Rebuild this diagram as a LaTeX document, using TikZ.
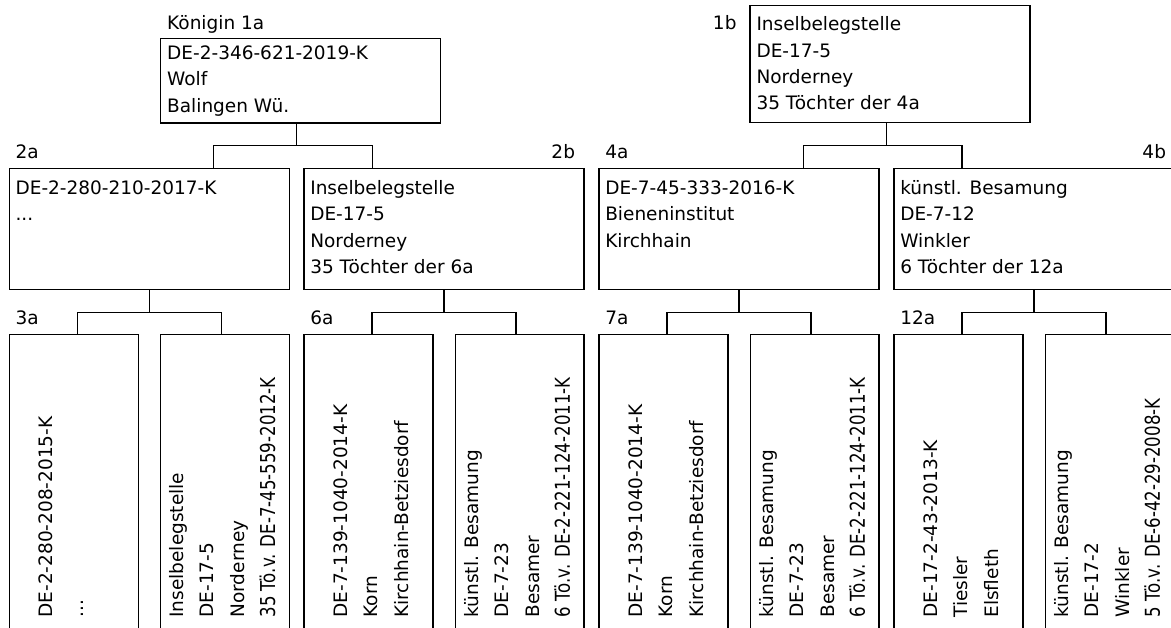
\documentclass[tikz,border=0pt]{standalone}
\usepackage{fontspec}
\usepackage{graphicx}
\setmainfont{DejaVu Sans}
\newcommand\fs{\fontsize{18.5pt}{22pt}\selectfont}
\newcommand\cond[1]{\scalebox{0.81}[1]{\fontsize{20.5pt}{24pt}\selectfont #1}}
\newcommand\tdots{...}
\tikzset{
  box/.style={draw, line width=1.3pt, inner sep=0pt, outer sep=0pt, anchor=north west},
  txt/.style={inner sep=0pt, outer sep=0pt, anchor=base west, font=\fs},
  lblr/.style={inner sep=0pt, outer sep=0pt, anchor=base east, font=\fs},
  conn/.style={line width=1.3pt},
}
\newcommand\hlines[4]{\foreach \s [count=\i] in {#4} {\node[txt] (#1-\i) at ({#2},{#3+(\i-1)*26.4}) {\s};}}
\newcommand\vlines[4]{\foreach \s [count=\i] in {#4} {\node[txt, rotate=90] (#1-\i) at ({#2+(\i-1)*30.6},#3) {\s};}}
\begin{document}
\begin{tikzpicture}[x=1pt,y=-1pt]
\useasboundingbox[fill=white] (0,0) rectangle (1171,628);
\clip (0,0) rectangle (1171,628);
% top boxes
\node[box, minimum width=280pt, minimum height=84.7pt] (b1a) at (160.7,38.3) {};
\node[box, minimum width=280pt, minimum height=116.6pt] (b1b) at (750,5.7) {};
\node[txt] (l1a) at (167.2,30) {Königin 1a};
\node[lblr] (l1b) at (736.5,29.5) {1b};
\hlines{t1a}{167.2}{59.5}{DE-2-346-621-2019-K,Wolf,Balingen Wü.}
\hlines{t1b}{756.5}{30.7}{Inselbelegstelle,DE-17-5,Norderney,35 Töchter der 4a}
% middle boxes
\foreach \n/\x in {2a/9.3,2b/304,4a/599,4b/894}{
  \node[box, minimum width=280pt, minimum height=121pt] (b\n) at (\x,168.3) {};
}
\node[txt] (l2a) at (15.6,158.3) {2a};
\node[lblr] (l2b) at (575,158.3) {2b};
\node[txt] (l4a) at (605.3,158.3) {4a};
\node[lblr] (l4b) at (1166,158.3) {4b};
\hlines{t2a}{15.6}{194.3}{DE-2-280-210-2017-K,\tdots}
\hlines{t2b}{310.3}{194.3}{Inselbelegstelle,DE-17-5,Norderney,35 Töchter der 6a}
\hlines{t4a}{605.3}{194.3}{DE-7-45-333-2016-K,Bieneninstitut,Kirchhain}
\hlines{t4b}{900.3}{194.3}{künstl. Besamung,DE-7-12,Winkler,6 Töchter der 12a}
% bottom boxes
\foreach \n/\x in {3a/9.3,6a/304,7a/599,12a/894}{
  \node[box, minimum width=129pt, minimum height=306pt] (b\n L) at (\x,334.5) {};
  \node[box, minimum width=128.5pt, minimum height=306pt] (b\n R) at (\x+151.5,334.5) {};
  \node[txt] (l\n) at (\x+6.3,325) {\n};
}
\vlines{t3aL}{52.6}{617.5}{DE-2-280-208-2015-K,\tdots}
\vlines{t3aR}{183.3}{617.5}{Inselbelegstelle,DE-17-5,Norderney,\cond{35 Tö.v. DE-7-45-559-2012-K}}
\vlines{t6aL}{347.3}{617.5}{DE-7-139-1040-2014-K,Korn,Kirchhain-Betziesdorf}
\vlines{t6aR}{478}{617.5}{künstl. Besamung,DE-7-23,Besamer,\cond{6 Tö.v. DE-2-221-124-2011-K}}
\vlines{t7aL}{642.3}{617.5}{DE-7-139-1040-2014-K,Korn,Kirchhain-Betziesdorf}
\vlines{t7aR}{773}{617.5}{künstl. Besamung,DE-7-23,Besamer,\cond{6 Tö.v. DE-2-221-124-2011-K}}
\vlines{t12aL}{937.3}{617.5}{DE-17-2-43-2013-K,Tiesler,Elsfleth}
\vlines{t12aR}{1068}{617.5}{künstl. Besamung,DE-17-2,Winkler,\cond{5 Tö.v. DE-6-42-29-2008-K}}
% connectors top -> middle
\draw[conn] ([xshift=-4pt]b1a.south) -- ++(0,22.7) coordinate (j1a);
\draw[conn] ([xshift=64.4pt]b2a.north) |- (j1a) -| ([xshift=-71.3pt]b2b.north);
\draw[conn] ([xshift=-3.3pt]b1b.south) -- ++(0,23.4) coordinate (j1b);
\draw[conn] ([xshift=64.3pt]b4a.north) |- (j1b) -| ([xshift=-72pt]b4b.north);
% connectors middle -> bottom
\foreach \p/\c in {2a/3a,2b/6a,4a/7a,4b/12a}{
  \draw[conn] (b\p.south) -- ++(0,23) coordinate (j\p);
  \draw[conn] ([xshift=68pt]b\c L.north west) |- (j\p) -| ([xshift=60.5pt]b\c R.north west);
}
\end{tikzpicture}
\end{document}
